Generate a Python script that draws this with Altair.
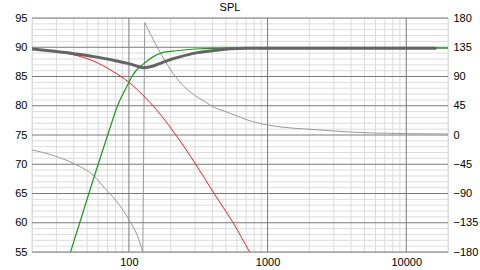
import altair as alt
import pandas as pd

# ---- data ----
red_f = [20, 29, 40, 56, 75, 100, 130, 170, 218, 303, 411, 564, 743, 1000]
red_db = [89.7, 89.3, 88.7, 87.6, 86.0, 84.0, 81.5, 78.4, 75.0, 70.0, 65.0, 60.0, 55.0, 50.0]

green_f = [30, 37.9, 45, 51.4, 60, 70.3, 82.8, 100, 105, 128, 150, 170, 220, 300, 500, 1000, 5000, 20000]
green_db = [47.0, 55.0, 60.6, 65.0, 70.0, 75.0, 80.0, 84.0, 85.0, 87.2, 88.4, 89.0, 89.4, 89.7, 89.85, 89.85, 89.85, 89.85]

sum_f = [20, 29, 40, 56, 80, 100, 115, 128, 150, 170, 200, 236, 300, 400, 540, 700, 1000, 5000, 16500]
sum_db = [89.7, 89.3, 88.9, 88.4, 87.7, 87.2, 86.75, 86.5, 86.8, 87.3, 87.9, 88.4, 89.0, 89.4, 89.75, 89.85, 89.85, 89.85, 89.85]

# phase below the wrap (down to -180) and above it (from +173)
phase_lo_f = [20, 29, 40, 56, 67, 80, 100, 115, 126]
phase_lo_deg = [-23, -32, -44, -63, -82, -100, -130, -155, -180]
phase_hi_f = [130, 164, 200, 236, 299, 352, 408, 506, 607, 718, 1000, 2400, 5760, 20000]
phase_hi_deg = [173, 131, 100, 80, 61, 51.5, 43, 35.4, 29, 23, 15.4, 7.7, 3.1, 1.5]

x_minor = [20, 30, 40, 50, 60, 70, 80, 90, 200, 300, 400, 500, 600, 700, 800, 900,
           2000, 3000, 4000, 5000, 6000, 7000, 8000, 9000, 20000]
x_major = [100, 1000, 10000]
y_minor = [56, 57, 58, 59, 61, 62, 63, 64, 66, 67, 68, 69, 71, 72, 73, 74, 76, 77, 78, 79,
           81, 82, 83, 84, 86, 87, 88, 89, 91, 92, 93, 94]
y_major = [55, 60, 65, 70, 75, 80, 85, 90, 95]
phase_ticks = [-180, -135, -90, -45, 0, 45, 90, 135, 180]

FONT = "Liberation Sans"
xscale = alt.Scale(type="log", domain=[20, 20000], nice=False)
yscale = alt.Scale(domain=[55, 95], nice=False, zero=False)
pscale = alt.Scale(domain=[-180, 180], nice=False, zero=False)

xaxis = alt.Axis(values=x_major, title=None, grid=False, ticks=False, domain=False, format="d",
                 labelFont=FONT, labelFontSize=11, labelColor="#000000", labelPadding=4,
                 labelOverlap=False)


def X():
    return alt.X("f:Q", scale=xscale, axis=xaxis)


# ---- gridlines ----
gx_minor = alt.Chart(pd.DataFrame({"f": x_minor})).mark_rule(color="#dcdcdc", strokeWidth=1).encode(x=X())
gy_minor = alt.Chart(pd.DataFrame({"v": y_minor})).mark_rule(color="#dcdcdc", strokeWidth=1).encode(
    y=alt.Y("v:Q", scale=yscale, axis=None))
gx_major = alt.Chart(pd.DataFrame({"f": x_major})).mark_rule(color="#7a7a7a", strokeWidth=1).encode(x=X())
gy_major = alt.Chart(pd.DataFrame({"v": y_major})).mark_rule(color="#7a7a7a", strokeWidth=1).encode(
    y=alt.Y("v:Q", scale=yscale, axis=None))
grid = alt.layer(gx_minor, gy_minor, gx_major, gy_major)

# ---- phase (three segments: low branch, wrap jump, high branch) ----
phase_df = pd.concat([
    pd.DataFrame({"f": phase_lo_f, "p": phase_lo_deg, "seg": "a"}),
    pd.DataFrame({"f": [phase_lo_f[-1], phase_hi_f[0]], "p": [phase_lo_deg[-1], phase_hi_deg[0]], "seg": "b"}),
    pd.DataFrame({"f": phase_hi_f, "p": phase_hi_deg, "seg": "c"}),
], ignore_index=True)
phase = alt.Chart(phase_df).mark_line(
    color="#999999", strokeWidth=1, clip=True, interpolate="monotone").encode(
    x=X(),
    y=alt.Y("p:Q", scale=pscale, axis=alt.Axis(
        orient="right", values=phase_ticks, title=None, grid=False, ticks=False, domain=False,
        labelFont=FONT, labelFontSize=11, labelColor="#000000", labelPadding=5, labelAlign="left",
        labelOverlap=False)),
    detail="seg:N",
    order="f:Q")

# ---- SPL curves ----
yaxis = alt.Axis(orient="left", values=y_major, title=None, grid=False, ticks=False, domain=False,
                 labelFont=FONT, labelFontSize=11, labelColor="#000000", labelPadding=5,
                 labelOverlap=False)
red = alt.Chart(pd.DataFrame({"f": red_f, "v": red_db})).mark_line(
    color="#ff1e1e", strokeWidth=1, clip=True, interpolate="monotone").encode(
    x=X(), y=alt.Y("v:Q", scale=yscale, axis=yaxis))
green = alt.Chart(pd.DataFrame({"f": green_f, "v": green_db})).mark_line(
    color="#1a9a1a", strokeWidth=1.2, clip=True, interpolate="monotone").encode(
    x=X(), y=alt.Y("v:Q", scale=yscale, axis=yaxis))
total = alt.Chart(pd.DataFrame({"f": sum_f, "v": sum_db})).mark_line(
    color="#646464", strokeWidth=3, clip=True, interpolate="monotone").encode(
    x=X(), y=alt.Y("v:Q", scale=yscale, axis=yaxis))
spl = alt.layer(red, green, total)

chart = alt.layer(grid, phase, spl).resolve_scale(y="independent").properties(
    width=416, height=234,
    title=alt.TitleParams("SPL", font=FONT, fontSize=11, fontWeight="normal", color="#000000",
                          anchor="middle", dx=-10, dy=6, offset=5),
    autosize=alt.AutoSizeParams(type="none"),
    padding={"left": 32, "top": 18, "right": 32, "bottom": 18},
).configure_view(stroke="#707070", strokeWidth=1).configure(background="#ffffff")

chart.save("out.html", embed_options={"renderer": "svg", "actions": False})
